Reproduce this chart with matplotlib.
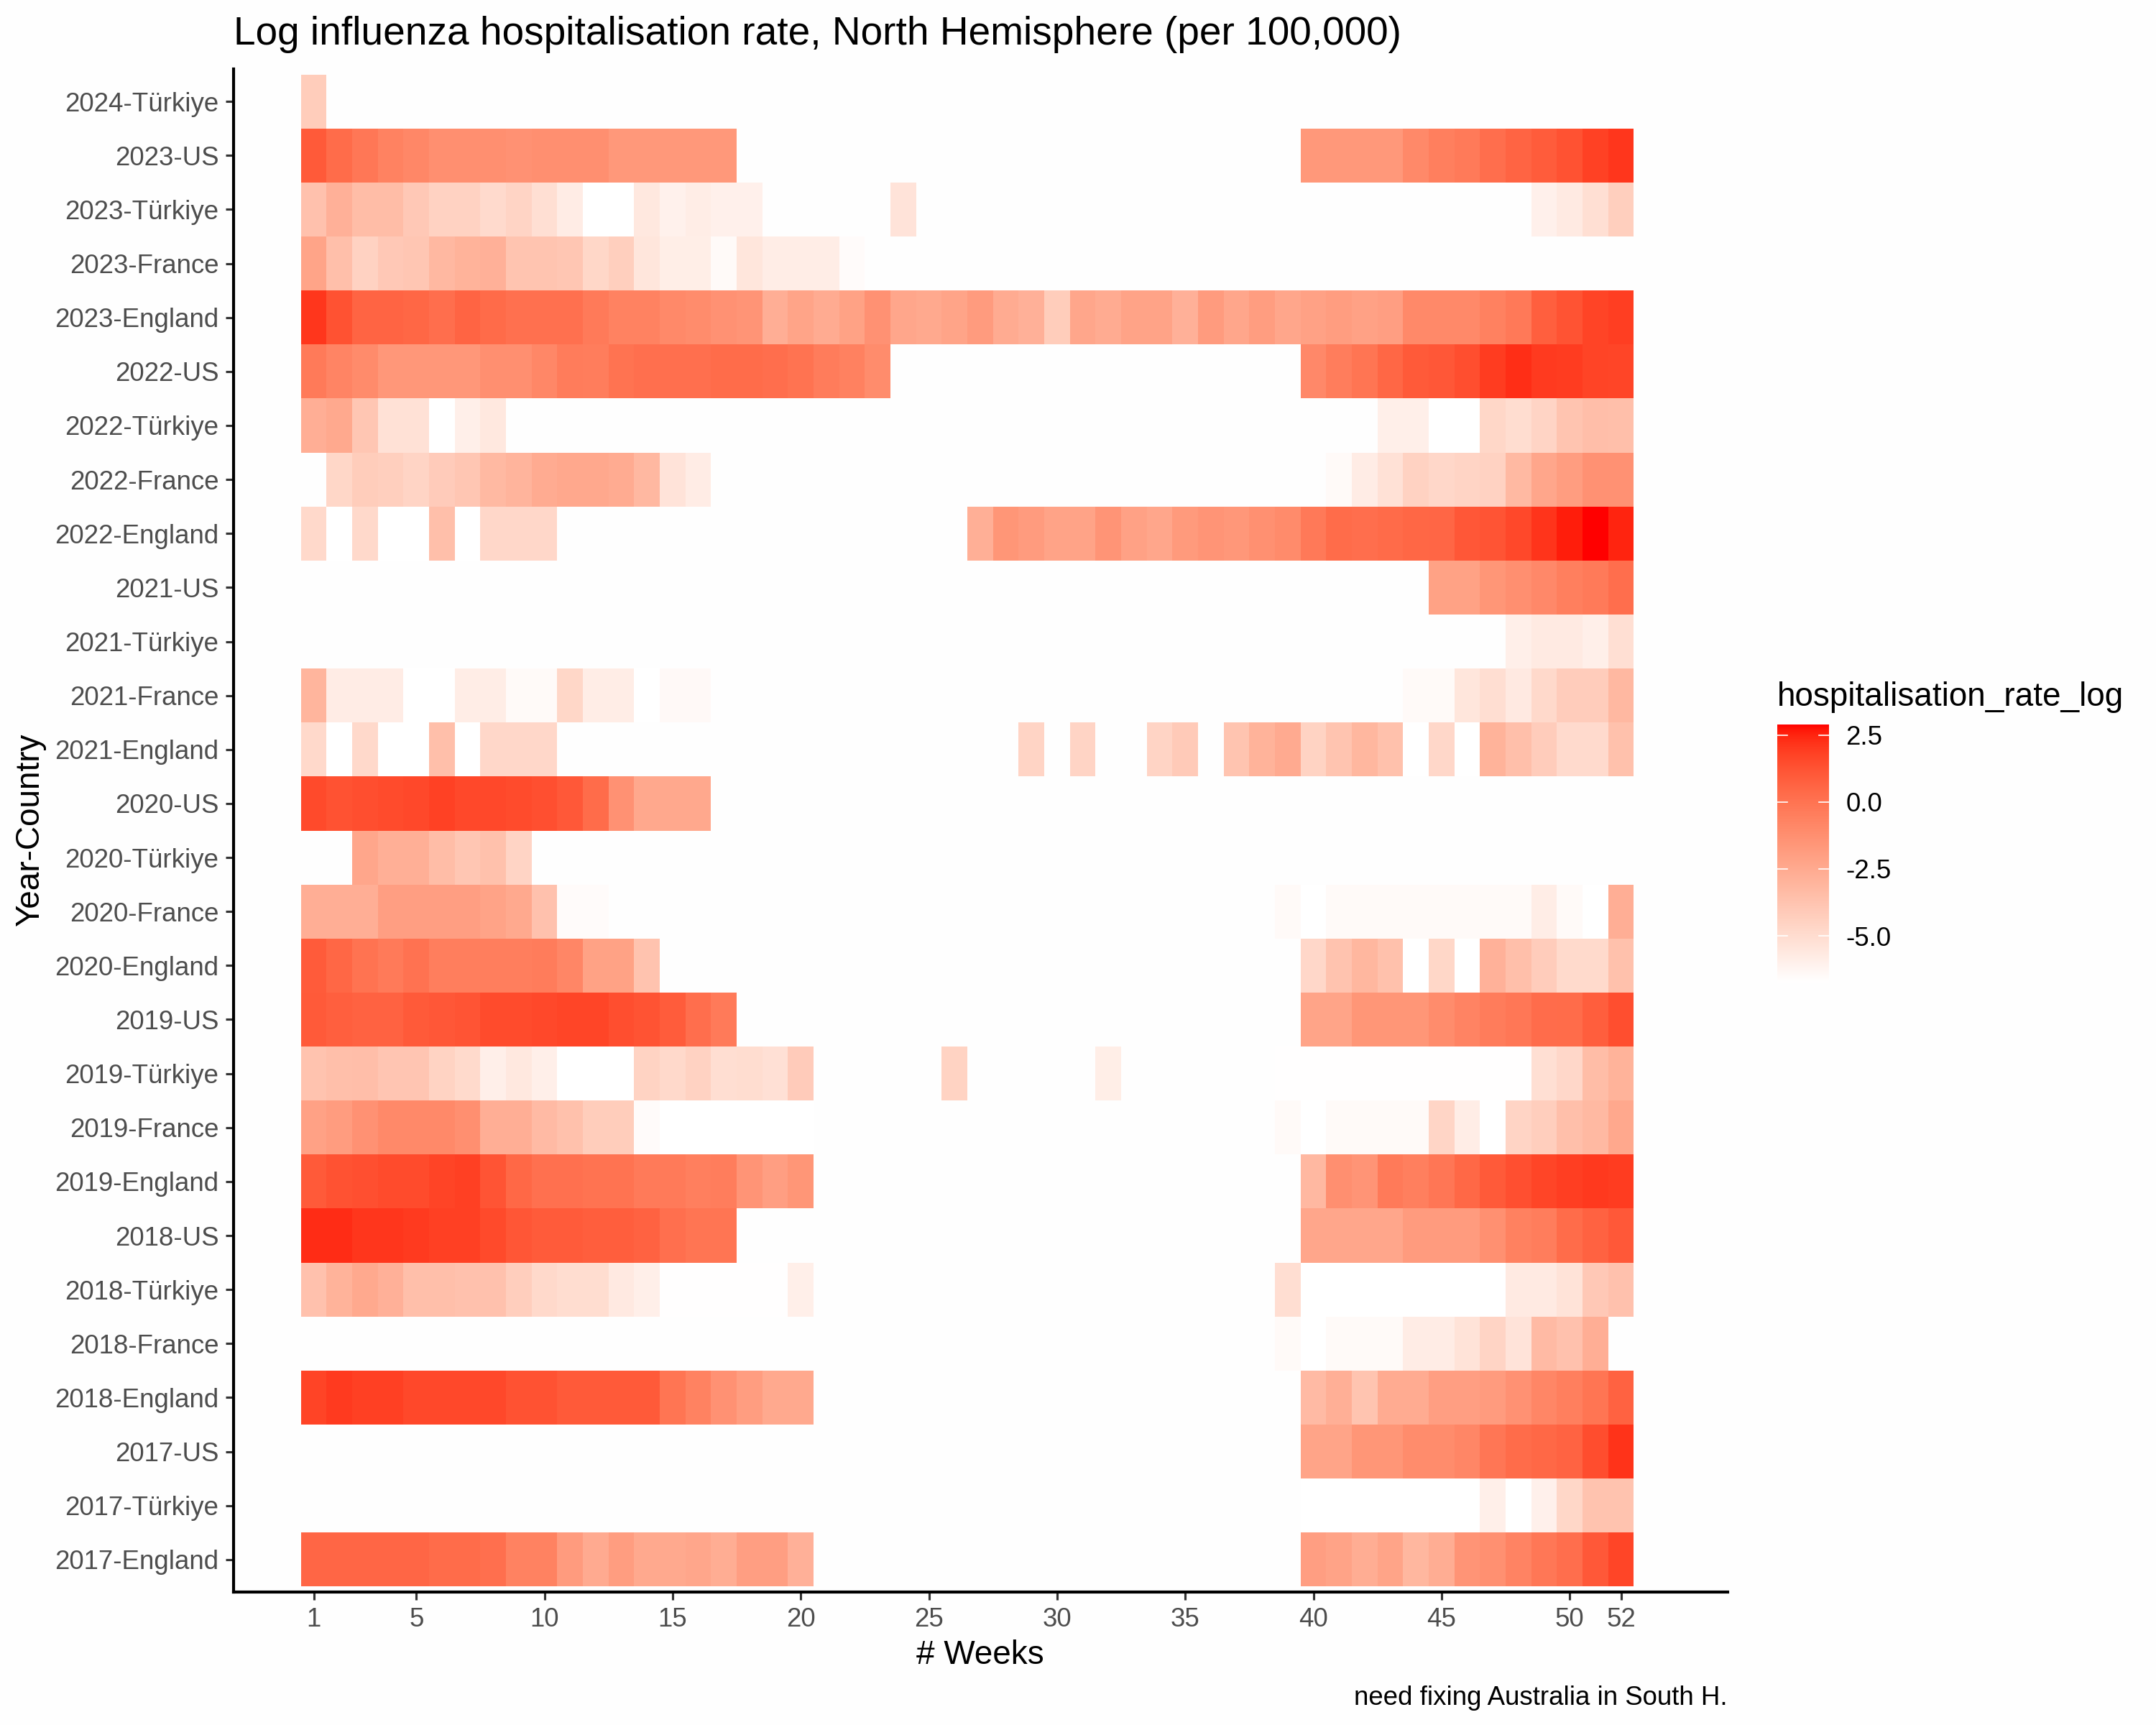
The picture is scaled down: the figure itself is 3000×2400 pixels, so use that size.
import numpy as np
import matplotlib
matplotlib.use("Agg")
import matplotlib.pyplot as plt
from matplotlib.colors import ListedColormap, Normalize

plt.rcParams['font.family'] = ['Liberation Sans', 'DejaVu Sans']
plt.rcParams['axes.unicode_minus'] = False

# each row: (first week, values), None = white gap inside a run
tur_2024 = [(1, [-4.24])]

us_2023 = [(1, [1.0, 0.3, -0.19, -0.64, -0.87, -1.23, -1.23, -1.23, -1.34, -1.23, -1.23, -1.23, -1.67, -1.67, -1.67, -1.67, -1.67]),
           (40, [-1.67, -1.67, -1.67, -1.67, -0.98, -0.53, -0.31, 0.2, 0.6, 0.9, 1.3, 1.8, 2.1])]
tur_2023 = [(1, [-3.67, -2.82, -3.43, -3.43, -4.01, -4.47, -4.47, -4.92, -4.59, -5.14, -5.8, -6.77, -6.77, -5.58, -6.05, -5.85, -6.0, -6.0]),
            (24, [-5.36]),
            (49, [-6.0, -5.7, -5.14, -4.35])]
fra_2023 = [(1, [-2.23, -3.55, -4.47, -4.01, -3.9, -3.19, -2.95, -2.82, -3.78, -3.78, -3.9, -4.7, -4.35, -5.47, -5.9, -5.9, -6.5, -5.47, -5.85, -5.85, -5.85, -6.55])]
eng_2023 = [(1, [2.1, 1.3, 0.6, 0.6, 0.5, 0.2, 0.6, 0.35, 0.1, 0.1, 0.1, -0.31, -0.64, -0.64, -0.98, -1.1, -1.34, -1.45, -2.7, -2.23, -2.58, -2.12, -1.34]),
            (24, [-2.34, -2.46, -2.23, -1.79, -2.58, -2.82, -4.24, -2.34, -2.58, -2.17, -2.17, -2.82, -1.79, -2.34, -1.9, -2.34]),
            (40, [-2.06, -1.9, -2.06, -1.95, -0.98, -0.98, -0.98, -0.59, -0.25, 0.8, 1.25, 1.75, 1.9])]

us_2022 = [(1, [-0.31, -0.76, -1.04, -1.62, -1.62, -1.62, -1.62, -1.23, -1.23, -0.87, -0.36, -0.42, 0.0, 0.15, 0.15, 0.15, 0.3, 0.3, 0.2, 0.0, -0.36, -0.59, -1.1]),
           (40, [-0.93, -0.42, -0.07, 0.5, 1.0, 1.1, 1.4, 1.95, 2.3, 2.0, 1.95, 1.75, 1.7])]
tur_2022 = [(1, [-2.7, -2.46, -3.9, -5.25, -5.25, -6.77, -5.95, -5.58]),
            (43, [-5.95, -5.95, -6.77, -6.77, -4.7, -5.03, -4.59, -3.78, -3.49, -3.55])]
fra_2022 = [(2, [-4.7, -4.24, -4.35, -4.59, -4.13, -3.9, -3.25, -3.0, -2.58, -2.4, -2.4, -2.58, -3.19, -5.36, -5.8]),
            (41, [-6.5, -5.8, -5.25, -4.47, -4.76, -4.59, -4.47, -3.25, -2.34, -1.9, -1.34, -1.34])]
eng_2022 = [(1, [-4.81, -6.77, -4.81, -6.77, -6.77, -3.55, -6.77, -4.76, -4.76, -4.76]),
            (27, [-2.76, -1.56, -1.79, -2.17, -2.17, -1.45, -2.06, -2.34, -1.73, -1.45, -1.62, -1.29, -1.04]),
            (40, [-0.25, 0.3, 0.2, 0.35, 0.5, 0.55, 1.1, 1.2, 1.6, 2.15, 2.6, 2.89, 2.5])]

us_2021 = [(45, [-2.12, -2.12, -1.56, -1.23, -0.93, -0.53, -0.31, 0.2])]
tur_2021 = [(48, [-5.95, -5.7, -5.7, -5.95, -5.14])]
fra_2021 = [(1, [-3.07, -5.8, -5.8, -5.8, -6.77, -6.77, -5.85, -5.85, -6.5, -6.5, -4.7, -5.85, -5.85, -6.77, -6.45, -6.45]),
            (44, [-6.5, -6.5, -5.47, -5.09, -5.64, -4.81, -4.18, -4.18, -3.19])]
eng_2021 = [(1, [-4.81, -6.77, -4.81, -6.77, -6.77, -3.55, -6.77, -4.76, -4.76, -4.76]),
            (29, [-4.59, None, -4.59, None, None, -4.59, -4.07, None, -3.78, -2.95, -2.52, -4.53, -3.78, -3.13, -3.61, -6.77, -4.76, -6.77, -2.95, -3.55, -4.18, -4.92, -4.92, -3.61])]

us_2020 = [(1, [1.55, 1.3, 1.4, 1.5, 1.6, 1.8, 1.6, 1.6, 1.5, 1.35, 1.05, 0.3, -1.34, -2.4, -2.4, -2.4])]
tur_2020 = [(3, [-2.34, -2.76, -2.76, -3.43, -3.9, -3.61, -4.59])]
fra_2020 = [(1, [-2.7, -2.7, -2.7, -1.95, -1.95, -1.95, -1.95, -2.17, -2.46, -3.67, -6.55, -6.55]),
            (39, [-6.5, -6.77, -6.5, -6.5, -6.5, -6.5, -6.5, -6.5, -6.5, -6.5, -5.85, -6.5, -6.77, -2.7])]
eng_2020 = [(1, [0.95, 0.5, 0.0, -0.31, 0.05, -0.48, -0.48, -0.48, -0.48, -0.36, -0.81, -2.12, -2.12, -3.72]),
            (40, [-4.76, -3.72, -3.13, -3.61, -6.77, -4.7, -6.77, -2.88, -3.55, -4.18, -4.87, -4.87, -3.61])]

us_2019 = [(1, [1.0, 0.8, 0.7, 0.7, 1.0, 1.1, 1.2, 1.5, 1.5, 1.6, 1.7, 1.7, 1.4, 1.25, 0.9, 0.2, -0.31]),
           (40, [-2.23, -2.23, -1.56, -1.56, -1.56, -1.1, -0.7, -0.36, -0.19, 0.25, 0.3, 0.85, 1.4])]
tur_2019 = [(1, [-3.72, -3.55, -3.49, -3.84, -3.84, -4.53, -4.87, -5.95, -5.58, -5.95, -6.77, -6.77, -6.77, -4.53, -4.81, -4.47, -5.09, -5.03, -5.2, -4.13]),
            (26, [-4.53]),
            (32, [-5.9]),
            (39, [-6.72, -6.72, -6.72, -6.72, -6.72, -6.72, -6.72, -6.72, -6.72, -6.72, -5.14, -4.76, -3.43, -2.95])]
fra_2019 = [(1, [-2.06, -1.84, -1.34, -0.98, -0.98, -0.98, -1.23, -2.7, -2.7, -3.31, -3.61, -4.24, -4.24, -6.55, -6.77, -6.77, -6.77, -6.77, -6.77, -6.77]),
            (39, [-6.5, -6.77, -6.5, -6.5, -6.5, -6.5, -4.64, -5.85, -6.77, -4.59, -4.3, -3.55, -3.25, -2.4])]
eng_2019 = [(1, [1.0, 1.3, 1.35, 1.5, 1.5, 1.75, 1.85, 1.2, 0.45, 0.1, 0.1, 0.0, 0.0, -0.31, -0.31, -0.53, -0.42, -1.45, -1.95, -1.56]),
            (40, [-3.19, -1.23, -1.45, -0.31, -0.53, -0.13, 0.45, 1.0, 1.35, 1.7, 1.9, 2.05, 1.95])]

us_2018 = [(1, [2.35, 2.35, 2.1, 2.1, 2.0, 1.85, 1.85, 1.55, 1.15, 0.95, 0.95, 0.85, 0.85, 0.7, 0.15, -0.07, -0.07]),
           (40, [-2.34, -2.34, -2.34, -2.34, -1.79, -1.79, -1.79, -1.29, -0.59, -0.42, 0.3, 0.7, 1.05])]
tur_2018 = [(1, [-3.67, -2.95, -2.46, -2.82, -3.55, -3.55, -3.67, -3.67, -4.3, -4.81, -5.03, -5.03, -5.64, -5.95, -6.72, -6.72, -6.72, -6.72, -6.72, -5.95]),
            (39, [-5.09, -6.77, -6.77, -6.77, -6.77, -6.77, -6.77, -6.77, -6.77, -5.7, -5.7, -5.3, -4.01, -3.67])]
fra_2018 = [(39, [-6.5, -6.77, -6.5, -6.5, -6.5, -5.8, -5.8, -5.3, -4.59, -5.36, -3.31, -3.67, -2.7])]
eng_2018 = [(1, [1.75, 2.0, 1.85, 1.85, 1.6, 1.6, 1.6, 1.6, 1.3, 1.3, 1.0, 1.0, 1.0, 1.0, -0.07, -0.64, -1.34, -1.9, -2.46, -2.46]),
            (40, [-3.31, -2.76, -3.78, -2.58, -2.58, -1.95, -1.95, -1.79, -1.34, -0.81, -0.53, -0.07, 0.7])]

us_2017 = [(40, [-2.23, -2.23, -1.56, -1.56, -1.1, -1.1, -0.81, -0.13, 0.3, 0.45, 0.65, 1.45, 2.2])]
tur_2017 = [(40, [-6.77, -6.77, -6.77, -6.77, -6.77, -6.77, -6.77, -5.95, -6.77, -6.0, -4.7, -3.72, -3.72])]
eng_2017 = [(1, [0.55, 0.55, 0.55, 0.55, 0.55, 0.3, 0.3, 0.15, -0.64, -0.64, -1.79, -2.52, -1.9, -2.46, -2.46, -2.34, -2.64, -1.95, -1.95, -2.82]),
            (40, [-1.95, -2.17, -2.64, -2.23, -3.13, -2.64, -1.45, -1.29, -0.7, -0.19, 0.2, 1.05, 1.7])]

# bottom to top
row_labels = ["2017-England", "2017-Türkiye", "2017-US",
              "2018-England", "2018-France", "2018-Türkiye", "2018-US",
              "2019-England", "2019-France", "2019-Türkiye", "2019-US",
              "2020-England", "2020-France", "2020-Türkiye", "2020-US",
              "2021-England", "2021-France", "2021-Türkiye", "2021-US",
              "2022-England", "2022-France", "2022-Türkiye", "2022-US",
              "2023-England", "2023-France", "2023-Türkiye", "2023-US",
              "2024-Türkiye"]
rows = [eng_2017, tur_2017, us_2017,
        eng_2018, fra_2018, tur_2018, us_2018,
        eng_2019, fra_2019, tur_2019, us_2019,
        eng_2020, fra_2020, tur_2020, us_2020,
        eng_2021, fra_2021, tur_2021, us_2021,
        eng_2022, fra_2022, tur_2022, us_2022,
        eng_2023, fra_2023, tur_2023, us_2023,
        tur_2024]

week_ticks = [1, 5, 10, 15, 20, 25, 30, 35, 40, 45, 50, 52]
legend_ticks = [2.5, 0.0, -2.5, -5.0]
legend_labels = ["2.5", "0.0", "-2.5", "-5.0"]
fill_min, fill_max = -6.77, 2.89


def lab_gradient(n=256):
    """white to red, interpolated in Lab like scale_fill_gradient"""
    t = np.linspace(0, 1, n)
    L = 100 + (53.24 - 100) * t
    a = 80.09 * t
    b = 67.20 * t
    fy = (L + 16) / 116
    fx = fy + a / 500
    fz = fy - b / 200

    def finv(f):
        return np.where(f > 6 / 29, f ** 3, 3 * (6 / 29) ** 2 * (f - 4 / 29))

    X, Y, Z = 0.95047 * finv(fx), finv(fy), 1.08883 * finv(fz)
    r = 3.2406 * X - 1.5372 * Y - 0.4986 * Z
    g = -0.9689 * X + 1.8758 * Y + 0.0415 * Z
    bl = 0.0557 * X - 0.2040 * Y + 1.0570 * Z
    rgb = np.clip(np.stack([r, g, bl], axis=1), 0, 1)
    rgb = np.where(rgb > 0.0031308, 1.055 * rgb ** (1 / 2.4) - 0.055, 12.92 * rgb)
    return ListedColormap(rgb)


grid = np.full((len(rows), 52), np.nan)
for i, segments in enumerate(rows):
    for start, values in segments:
        for k, v in enumerate(values):
            if v is not None:
                grid[i, start - 1 + k] = v

W, H = 3000, 2400
bg = '#FEFEFE'
fig = plt.figure(figsize=(10, 8), dpi=300, facecolor=bg)


def box(x0, y0, x1, y1):
    return [x0 / W, 1 - y1 / H, (x1 - x0) / W, (y1 - y0) / H]


ax = fig.add_axes(box(325, 96, 2404, 2215), facecolor=bg)
cmap = lab_gradient()
norm = Normalize(fill_min, fill_max)
x_edges = np.arange(0.5, 53.5)
y_edges = np.arange(0.5, len(rows) + 1)
mesh = ax.pcolormesh(x_edges, y_edges, np.ma.masked_invalid(grid), cmap=cmap, norm=norm,
                     linewidth=0, antialiased=False)

ax.set_xlim(-2.13, 56.16)
ax.set_ylim(0.4, len(rows) + 0.6)
ax.set_xticks(week_ticks)
ax.set_yticks(np.arange(1, len(rows) + 1))
ax.set_yticklabels(row_labels)
ax.tick_params(axis='both', labelsize=8.8, labelcolor='#4D4D4D', color='#333333',
               width=0.75, length=2.75, pad=2.2)

for side in ['top', 'right']:
    ax.spines[side].set_visible(False)
for side in ['left', 'bottom']:
    ax.spines[side].set_linewidth(1.0)
    ax.spines[side].set_color('black')

fig.text(325 / W, 1 - 48 / H, "Log influenza hospitalisation rate, North Hemisphere (per 100,000)",
         fontsize=13.2, ha='left', va='center', color='black')
fig.text(1364 / W, 1 - 2303 / H, "# Weeks", fontsize=11, ha='center', va='center', color='black')
fig.text(42 / W, 1 - 1155 / H, "Year-Country", fontsize=11, rotation=90, ha='center', va='center', color='black')
fig.text(2404 / W, 1 - 2363 / H, "need fixing Australia in South H.", fontsize=8.8, ha='right', va='center', color='black')

# legend
cax = fig.add_axes(box(2473, 1008, 2545, 1368))
cbar = fig.colorbar(mesh, cax=cax, ticks=legend_ticks)
cbar.ax.set_yticklabels(legend_labels)
cbar.ax.tick_params(length=0, labelsize=8.8, labelcolor='black', pad=5.6)
cbar.outline.set_visible(False)
trans = cax.get_yaxis_transform()
for v in legend_ticks:
    cax.plot([0, 0.2], [v, v], color='white', lw=0.4, transform=trans)
    cax.plot([0.8, 1], [v, v], color='white', lw=0.4, transform=trans)
fig.text(2473 / W, 1 - 970 / H, "hospitalisation_rate_log", fontsize=11, ha='left', va='center', color='black')

fig.savefig("out.png", dpi=300, facecolor=bg)
